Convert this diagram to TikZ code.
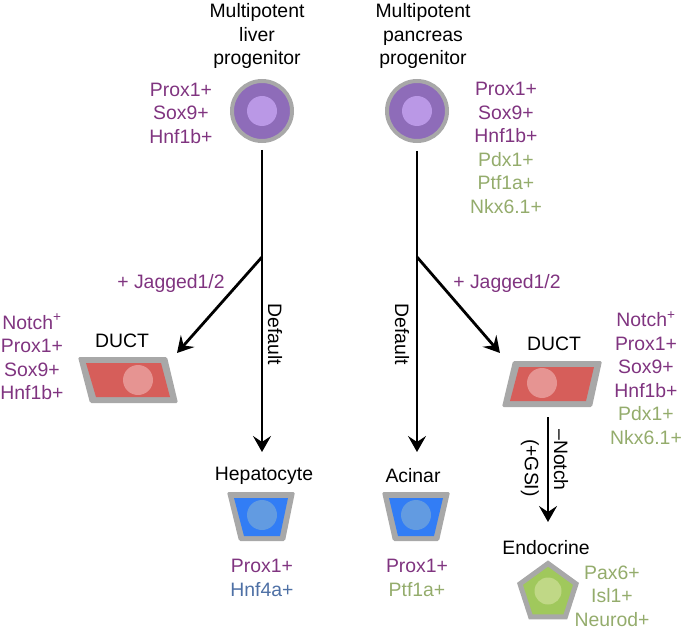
\documentclass[tikz,border=0pt]{standalone}
\usepackage{fontspec}
\setmainfont{Liberation Sans}
\usetikzlibrary{arrows.meta,shapes.geometric}
\definecolor{ptxt}{RGB}{128,52,128}
\definecolor{gtxt}{RGB}{148,172,108}
\definecolor{btxt}{RGB}{78,112,165}
\definecolor{rim}{RGB}{168,168,168}
\definecolor{cellpurple}{RGB}{142,108,185}
\definecolor{nucpurple}{RGB}{186,152,230}
\definecolor{cellred}{RGB}{214,94,90}
\definecolor{nucred}{RGB}{230,148,146}
\definecolor{cellblue}{RGB}{50,125,245}
\definecolor{nucblue}{RGB}{98,155,225}
\definecolor{cellgreen}{RGB}{160,200,92}
\definecolor{nucgreen}{RGB}{192,216,134}
\begin{document}
\begin{tikzpicture}[x=1pt,y=-1pt,
  every node/.style={font=\fontsize{19.4}{23.5}\selectfont, inner sep=0pt, align=center},
  ptext/.style={text=ptxt},
  conn/.style={line width=2.8pt, black},
  arr/.style={conn, -{Stealth[length=16pt,width=18pt,inset=6pt]}},
  nuc/.style={circle, minimum size=30pt, inner sep=0pt},
  progcell/.style={circle, draw=rim, line width=4pt, fill=cellpurple, minimum size=60pt},
  vlabel/.style={rotate=-90}
]
\useasboundingbox (0,0) rectangle (685,631);

% ---------- progenitors ----------
\node (ltitle) at (257,36) {Multipotent\\liver\\progenitor};
\node (rtitle) at (423,36) {Multipotent\\pancreas\\progenitor};
\node[progcell] (lprog) at (262,111) {};
\node[nuc, fill=nucpurple] (lprognuc) at (262,111) {};
\node[progcell] (rprog) at (417,111) {};
\node[nuc, fill=nucpurple] (rprognuc) at (417,111) {};
\node[ptext] (lmark) at (181,113) {Prox1+\\Sox9+\\Hnf1b+};
\node (rmark) at (506,148) {\textcolor{ptxt}{Prox1+}\\\textcolor{ptxt}{Sox9+}\\\textcolor{ptxt}{Hnf1b+}\\\textcolor{gtxt}{Pdx1+}\\\textcolor{gtxt}{Ptf1a+}\\\textcolor{gtxt}{Nkx6.1+}};

% ---------- ducts ----------
\fill[rim, rounded corners=1.5pt] (78,357) -- (167,357) -- (178,403) -- (90,403) -- cycle;
\fill[cellred] (86,363) -- (161,363) -- (170,397) -- (96,397) -- cycle;
\node[nuc, fill=nucred] (lductnuc) at (138,380) {};
\node (lductlbl) at (122,341) {DUCT};
\node[ptext] (lductmark) at (32,357) {Notch\textsuperscript{+}\\Prox1+\\Sox9+\\Hnf1b+};

\fill[rim, rounded corners=1.5pt] (513,361) -- (602,361) -- (592,407) -- (502,407) -- cycle;
\fill[cellred] (519,367) -- (594,367) -- (586,401) -- (510,401) -- cycle;
\node[nuc, fill=nucred] (rductnuc) at (542,383) {};
\node (rductlbl) at (554,344) {DUCT};
\node (rductmark) at (646,378) {\textcolor{ptxt}{Notch\textsuperscript{+}}\\\textcolor{ptxt}{Prox1+}\\\textcolor{ptxt}{Sox9+}\\\textcolor{ptxt}{Hnf1b+}\\\textcolor{gtxt}{Pdx1+}\\\textcolor{gtxt}{Nkx6.1+}};

% ---------- hepatocyte / acinar ----------
\node (heplbl) at (264,476) {Hepatocyte};
\fill[rim, rounded corners=1.5pt] (227,492) -- (295,492) -- (285,541) -- (239,541) -- cycle;
\fill[cellblue] (234,498) -- (288,498) -- (280,536) -- (244,536) -- cycle;
\node[nuc, fill=nucblue] (hepnuc) at (262,515) {};
\node (hepmark) at (262,578) {\textcolor{ptxt}{Prox1+}\\\textcolor{btxt}{Hnf4a+}};

\node (acilbl) at (413,476) {Acinar};
\fill[rim, rounded corners=1.5pt] (382,492) -- (450,492) -- (439,541) -- (393,541) -- cycle;
\fill[cellblue] (389,498) -- (443,498) -- (434,536) -- (398,536) -- cycle;
\node[nuc, fill=nucblue] (acinuc) at (416,515) {};
\node (acimark) at (417,578) {\textcolor{ptxt}{Prox1+}\\\textcolor{gtxt}{Ptf1a+}};

% ---------- endocrine ----------
\node (endolbl) at (546,548) {Endocrine};
\node[regular polygon, regular polygon sides=5, draw=rim, line width=5pt, fill=cellgreen, minimum size=59pt] (endo) at (548,593) {};
\node[nuc, fill=nucgreen, minimum size=27pt] (endonuc) at (548,591) {};
\node[text=gtxt] (endomark) at (612,596) {Pax6+\\Isl1+\\Neurod+};

% ---------- connectors ----------
\coordinate (lb) at (262,257);
\coordinate (rb) at (417,257);
\coordinate (ldtip) at (177,353);
\coordinate (rdtip) at (500,353);
\coordinate (lhtip) at (262,452);
\coordinate (ratip) at (417,452);
\coordinate (etop) at (548,417);
\coordinate (etip) at (548,522);

\draw[conn, shorten <=7pt] (lprog) -- (lb);
\draw[conn, shorten <=8pt] (rprog) -- (rb);
\draw[arr] (lb) -- (ldtip);
\draw[arr] (lb) -- (lhtip);
\draw[arr] (rb) -- (rdtip);
\draw[arr] (rb) -- (ratip);
\draw[arr] (etop) -- (etip);

\node[ptext] (ljag) at (171,283) {+ Jagged1/2};
\node[ptext] (rjag) at (507,283) {+ Jagged1/2};
\node[vlabel] (ldef) at (275,334) {Default};
\node[vlabel] (rdef) at (402,334) {Default};
\node[vlabel] (notch) at (561,460) {\textendash Notch};
\node[vlabel] (gsi) at (530,468) {(+GSI)};
\end{tikzpicture}
\end{document}
